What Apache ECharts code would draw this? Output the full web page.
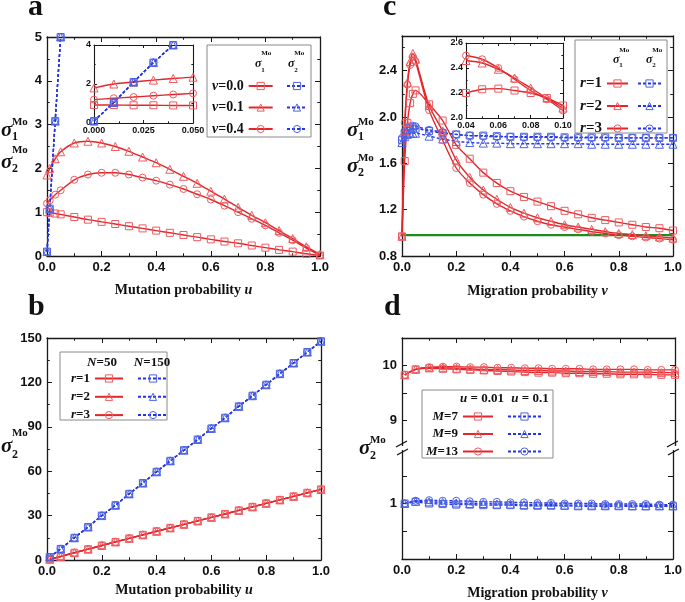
<!DOCTYPE html>
<html><head><meta charset="utf-8">
<script src="https://cdn.jsdelivr.net/npm/echarts@6/dist/echarts.min.js"></script>
<style>html,body{margin:0;padding:0;background:#fff}#c{width:685px;height:602px}</style>
</head><body><div id="c"></div>
<script>
// ---------- DATA ----------
// panel a (main)
const aX   = [0, 0.01, 0.03, 0.05, 0.1, 0.15, 0.2, 0.25, 0.3, 0.35, 0.4, 0.45, 0.5, 0.55, 0.6, 0.65, 0.7, 0.75, 0.8, 0.85, 0.9, 0.95, 1.0];
const aV00 = [1.0, 0.99, 0.97, 0.95, 0.89, 0.83, 0.78, 0.73, 0.68, 0.63, 0.58, 0.53, 0.48, 0.43, 0.38, 0.33, 0.29, 0.24, 0.19, 0.14, 0.1, 0.05, 0.01];
const aV01 = [1.85, 2.0, 2.22, 2.38, 2.58, 2.62, 2.58, 2.5, 2.39, 2.26, 2.13, 1.98, 1.82, 1.66, 1.48, 1.3, 1.11, 0.93, 0.76, 0.58, 0.4, 0.21, 0.04];
const aV04 = [1.2, 1.27, 1.4, 1.5, 1.74, 1.86, 1.9, 1.9, 1.86, 1.79, 1.72, 1.63, 1.53, 1.41, 1.29, 1.15, 1.0, 0.85, 0.7, 0.53, 0.36, 0.18, 0.02];
const aBlueX = [0, 0.01, 0.03, 0.05];
const aBlueY = [0.1, 1.08, 3.08, 5.0];
// panel a (inset)
const iaX   = [0, 0.01, 0.02, 0.03, 0.04, 0.05];
const iaV00 = [0.92, 0.92, 0.91, 0.91, 0.9, 0.9];
const iaV01 = [1.8, 2.0, 2.1, 2.2, 2.28, 2.35];
const iaV04 = [1.2, 1.27, 1.33, 1.4, 1.46, 1.52];
const iaBlueX = [0, 0.01, 0.02, 0.03, 0.04];
const iaBlueY = [0.1, 1.05, 2.1, 3.1, 4.0];
// panel b
const bX     = [0.01, 0.05, 0.1, 0.15, 0.2, 0.25, 0.3, 0.35, 0.4, 0.45, 0.5, 0.55, 0.6, 0.65, 0.7, 0.75, 0.8, 0.85, 0.9, 0.95, 1.0];
const bN150  = [2, 7.5, 15, 22.3, 30, 37, 44.7, 52, 59.6, 67, 74.2, 81.4, 88.9, 96.1, 103.8, 111, 118.4, 125.9, 133.1, 140.5, 147.8];
const bN50   = [0.5, 2.4, 4.9, 7.3, 9.8, 12.2, 14.6, 17, 19.4, 21.7, 24.1, 26.4, 28.8, 31.1, 33.5, 35.9, 38.3, 40.6, 43, 45.4, 47.7];
// panel c (main)
const cXr  = [0, 0.01, 0.02, 0.03, 0.04, 0.05, 0.1, 0.15, 0.2, 0.25, 0.3, 0.35, 0.4, 0.45, 0.5, 0.55, 0.6, 0.65, 0.7, 0.75, 0.8, 0.85, 0.9, 0.95, 1.0];
const cR1  = [0.97, 1.62, 1.95, 2.12, 2.2, 2.23, 2.11, 1.97, 1.76, 1.64, 1.52, 1.43, 1.36, 1.31, 1.27, 1.23, 1.19, 1.16, 1.13, 1.11, 1.09, 1.07, 1.05, 1.04, 1.02];
const cR2  = [0.97, 1.88, 2.3, 2.48, 2.55, 2.5, 2.1, 1.88, 1.63, 1.48, 1.37, 1.29, 1.22, 1.17, 1.13, 1.10, 1.07, 1.05, 1.03, 1.01, 0.995, 0.985, 0.975, 0.965, 0.955];
const cR3  = [0.97, 1.95, 2.28, 2.45, 2.52, 2.48, 2.06, 1.8, 1.56, 1.43, 1.33, 1.25, 1.19, 1.14, 1.10, 1.07, 1.05, 1.03, 1.01, 0.995, 0.98, 0.97, 0.96, 0.95, 0.94];
const cXb  = [0, 0.01, 0.02, 0.03, 0.04, 0.05, 0.1, 0.15, 0.2, 0.25, 0.3, 0.35, 0.4, 0.45, 0.5, 0.55, 0.6, 0.65, 0.7, 0.75, 0.8, 0.85, 0.9, 0.95, 1.0];
const cB1  = [1.8, 1.86, 1.88, 1.9, 1.9, 1.9, 1.88, 1.86, 1.85, 1.84, 1.84, 1.835, 1.83, 1.83, 1.83, 1.83, 1.825, 1.825, 1.825, 1.825, 1.82, 1.82, 1.82, 1.82, 1.82];
const cB2  = [1.78, 1.83, 1.85, 1.86, 1.86, 1.86, 1.835, 1.81, 1.79, 1.78, 1.775, 1.775, 1.77, 1.77, 1.77, 1.77, 1.77, 1.77, 1.765, 1.765, 1.765, 1.765, 1.765, 1.765, 1.765];
const cB3  = [1.82, 1.88, 1.91, 1.92, 1.925, 1.92, 1.89, 1.87, 1.85, 1.84, 1.835, 1.83, 1.83, 1.825, 1.825, 1.825, 1.82, 1.82, 1.82, 1.82, 1.82, 1.82, 1.82, 1.82, 1.82];
const cGreenX = [0, 1.0];
const cGreenY = [0.98, 0.98];
// panel c (inset)
const icX  = [0.04, 0.05, 0.06, 0.07, 0.08, 0.09, 0.1];
const icR1 = [2.2, 2.23, 2.235, 2.22, 2.2, 2.16, 2.1];
const icR2 = [2.46, 2.44, 2.39, 2.32, 2.24, 2.16, 2.08];
const icR3 = [2.5, 2.47, 2.4, 2.31, 2.22, 2.15, 2.06];
// panel d
const dX    = [0.01, 0.05, 0.1, 0.15, 0.2, 0.25, 0.3, 0.35, 0.4, 0.45, 0.5, 0.55, 0.6, 0.65, 0.7, 0.75, 0.8, 0.85, 0.9, 0.95, 1.0];
const dR7   = [9.83, 9.93, 9.95, 9.94, 9.93, 9.92, 9.91, 9.9, 9.89, 9.88, 9.87, 9.87, 9.86, 9.86, 9.85, 9.85, 9.84, 9.84, 9.84, 9.83, 9.83];
const dR9   = [9.83, 9.93, 9.96, 9.96, 9.95, 9.94, 9.93, 9.93, 9.92, 9.91, 9.91, 9.9, 9.9, 9.89, 9.89, 9.89, 9.88, 9.88, 9.88, 9.87, 9.87];
const dR13  = [9.83, 9.93, 9.97, 9.98, 9.98, 9.97, 9.97, 9.96, 9.96, 9.95, 9.95, 9.94, 9.94, 9.94, 9.93, 9.93, 9.93, 9.93, 9.92, 9.92, 9.92];
const dB7   = [1.0, 1.03, 1.0, 0.99, 0.98, 0.98, 0.97, 0.97, 0.97, 0.96, 0.96, 0.96, 0.96, 0.95, 0.95, 0.95, 0.95, 0.95, 0.95, 0.95, 0.95];
const dB9   = [1.0, 1.04, 1.03, 1.02, 1.01, 1.0, 1.0, 0.99, 0.99, 0.98, 0.98, 0.98, 0.97, 0.97, 0.97, 0.97, 0.97, 0.96, 0.96, 0.96, 0.96];
const dB13  = [1.0, 1.05, 1.06, 1.05, 1.05, 1.04, 1.03, 1.03, 1.02, 1.02, 1.01, 1.01, 1.0, 1.0, 1.0, 0.99, 0.99, 0.99, 0.99, 0.98, 0.98];
// tick labels
const xTicks   = ['0.0', '0.2', '0.4', '0.6', '0.8', '1.0'];
const aYTicks  = ['0', '1', '2', '3', '4', '5'];
const bYTicks  = ['0', '30', '60', '90', '120', '150'];
const cYTicks  = ['0.8', '1.2', '1.6', '2.0', '2.4'];
const dYTicksUpper = ['9', '10'];
const dYTicksLower = ['1'];
const iaXTicks = ['0.000', '0.025', '0.050'];
const iaYTicks = ['0', '2', '4'];
const icXTicks = ['0.04', '0.06', '0.08', '0.10'];
const icYTicks = ['2.0', '2.2', '2.4', '2.6'];
// legend labels
const aLegend = ['{i|v}=0.0', '{i|v}=0.1', '{i|v}=0.4'];
const bLegend = ['{i|r}=1', '{i|r}=2', '{i|r}=3'];
const cLegend = ['{i|r}=1', '{i|r}=2', '{i|r}=3'];
const dLegend = ['{i|M}=7', '{i|M}=9', '{i|M}=13'];

// ---------- STYLE ----------
const RED = '#e3262b', RED_MK = '#ee5b60', BLUE = '#2633e0', BLUE_MK = '#4d63e3', GREEN = '#1d8c1d';
const SANS = '"Liberation Sans", Arial, sans-serif';
const SERIF = '"Liberation Serif", "Times New Roman", serif';
const INK = '#111';
const CLEAR = 'rgba(255,255,255,0)';

const grids = [
  {left: 47,  top: 37,  width: 273, height: 219},          // 0 a
  {left: 402, top: 36,  width: 273, height: 220},          // 1 c
  {left: 47,  top: 338, width: 274, height: 222},          // 2 b
  {left: 402, top: 338, width: 273, height: 110},          // 3 d (upper part)
  {left: 94,  top: 45,  width: 99,  height: 78, show: true, backgroundColor: '#fff', borderWidth: 0, z: 10}, // 4 inset a
  {left: 466, top: 43,  width: 97,  height: 75, show: true, backgroundColor: '#fff', borderWidth: 0, z: 10}, // 5 inset c
  {left: 402, top: 448, width: 273, height: 111}           // 6 d (lower part)
];

function pick(v, labels) {
  const l = labels.find(s => Math.abs(parseFloat(s) - v) < 1e-7);
  return l === undefined ? '' : l;
}

const xAxes = [], yAxes = [];
function axis(gi, pos, r, showLabel, o, hidden) {
  const a = {
    type: 'value', gridIndex: gi, position: pos, min: r.min, max: r.max, interval: r.interval, show: !hidden,
    axisLine: {show: true, onZero: false, lineStyle: {color: '#1a1a1a', width: o.lw}},
    axisTick: {show: true, inside: true, length: o.tick, lineStyle: {color: '#1a1a1a', width: 1}},
    minorTick: {show: !!r.minor, splitNumber: r.minor || 2, length: o.tick * 0.55, lineStyle: {color: '#1a1a1a', width: 1}},
    splitLine: {show: false}, minorSplitLine: {show: false},
    axisLabel: {show: showLabel, fontFamily: SANS, fontWeight: 'bold', fontSize: o.fs, color: INK, margin: o.margin,
      formatter: v => pick(v, r.labels)},
    z: o.z
  };
  if (showLabel && r.name) {
    a.name = r.name; a.nameLocation = 'middle'; a.nameGap = r.nameGap;
    a.nameTextStyle = {fontFamily: SERIF, fontWeight: 'bold', fontSize: 14, color: INK, verticalAlign: 'top',
      rich: {i: {fontFamily: SERIF, fontWeight: 'bold', fontStyle: 'italic', fontSize: 14, color: INK}}};
  }
  return a;
}
function addAxes(gi, xr, yr, o, f) {
  f = f || {};
  xAxes.push(axis(gi, 'bottom', xr, true, o, f.hideBottom), axis(gi, 'top', xr, false, o, f.hideTop));
  yAxes.push(axis(gi, 'left', yr, true, o), axis(gi, 'right', yr, false, o));
}
const MAIN = {lw: 1.3, tick: 5, fs: 13, margin: 5, z: 0};
const INS  = {lw: 1.1, tick: 3, fs: 9, margin: 3, z: 12};
const mutName = 'Mutation probability {i|u}';
const migName = 'Migration probability {i|v}';

addAxes(0, {min: 0, max: 1, interval: 0.2, minor: 2, labels: xTicks, name: mutName, nameGap: 27},
           {min: 0, max: 5, interval: 1, minor: 2, labels: aYTicks}, MAIN);
addAxes(1, {min: 0, max: 1, interval: 0.2, minor: 2, labels: xTicks, name: migName, nameGap: 28},
           {min: 0.8, max: 2.7, interval: 0.4, minor: 2, labels: cYTicks}, MAIN);
addAxes(2, {min: 0, max: 1, interval: 0.2, minor: 2, labels: xTicks, name: mutName, nameGap: 23},
           {min: 0, max: 150, interval: 30, minor: 2, labels: bYTicks}, MAIN);
addAxes(3, {min: 0, max: 1, interval: 0.2, minor: 2, labels: []},
           {min: 8.5, max: 10.5, interval: 0.5, labels: dYTicksUpper}, MAIN, {hideBottom: true});
addAxes(4, {min: 0, max: 0.05, interval: 0.025, minor: 2, labels: iaXTicks},
           {min: 0, max: 4, interval: 2, minor: 2, labels: iaYTicks}, INS);
addAxes(5, {min: 0.04, max: 0.1, interval: 0.02, minor: 2, labels: icXTicks},
           {min: 2.0, max: 2.6, interval: 0.2, minor: 2, labels: icYTicks}, INS);
addAxes(6, {min: 0, max: 1, interval: 0.2, minor: 2, labels: xTicks, name: migName, nameGap: 27},
           {min: 0, max: 2, interval: 0.5, labels: dYTicksLower}, MAIN, {hideTop: true});

function ser(name, gi, xs, ys, sym, red, extra) {
  const mk = red ? RED_MK : BLUE_MK;
  return Object.assign({
    type: 'line', name, xAxisIndex: 2 * gi, yAxisIndex: 2 * gi,
    data: xs.map((x, i) => [x, ys[i]]),
    symbol: sym, symbolSize: sym === 'triangle' ? 8 : 7, showSymbol: true, smooth: 0.25,
    lineStyle: red ? {color: RED, width: 1.4, type: 'solid'} : {color: BLUE, width: 1.4, type: [3, 2]},
    itemStyle: {color: CLEAR, borderColor: mk, borderWidth: 1},
    emphasis: {disabled: true}, z: gi === 4 || gi === 5 ? 13 : 2
  }, extra || {});
}
const series = [
  // a
  ser('a_v00', 0, aX, aV00, 'rect', true),
  ser('a_v01', 0, aX, aV01, 'triangle', true),
  ser('a_v04', 0, aX, aV04, 'circle', true),
  ser('a_b00', 0, aBlueX, aBlueY, 'rect', false, {smooth: false}),
  ser('a_b01', 0, aBlueX, aBlueY, 'triangle', false, {smooth: false}),
  ser('a_b04', 0, aBlueX, aBlueY, 'circle', false, {smooth: false}),
  ser('ia_v00', 4, iaX, iaV00, 'rect', true),
  ser('ia_v01', 4, iaX, iaV01, 'triangle', true),
  ser('ia_v04', 4, iaX, iaV04, 'circle', true),
  ser('ia_b00', 4, iaBlueX, iaBlueY, 'rect', false, {smooth: false}),
  ser('ia_b01', 4, iaBlueX, iaBlueY, 'triangle', false, {smooth: false}),
  ser('ia_b04', 4, iaBlueX, iaBlueY, 'circle', false, {smooth: false}),
  // b
  ser('b_r1', 2, bX, bN50, 'rect', true, {smooth: false}),
  ser('b_r2', 2, bX, bN50, 'triangle', true, {smooth: false}),
  ser('b_r3', 2, bX, bN50, 'circle', true, {smooth: false}),
  ser('b_b1', 2, bX, bN150, 'rect', false, {smooth: false}),
  ser('b_b2', 2, bX, bN150, 'triangle', false, {smooth: false}),
  ser('b_b3', 2, bX, bN150, 'circle', false, {smooth: false}),
  // c
  ser('c_green', 1, cGreenX, cGreenY, 'none', true, {lineStyle: {color: GREEN, width: 2.2}, smooth: false, z: 1}),
  ser('c_b1', 1, cXb, cB1, 'rect', false),
  ser('c_b2', 1, cXb, cB2, 'triangle', false),
  ser('c_b3', 1, cXb, cB3, 'circle', false),
  ser('c_r1', 1, cXr, cR1, 'rect', true),
  ser('c_r2', 1, cXr, cR2, 'triangle', true),
  ser('c_r3', 1, cXr, cR3, 'circle', true),
  ser('ic_r1', 5, icX, icR1, 'rect', true),
  ser('ic_r2', 5, icX, icR2, 'triangle', true),
  ser('ic_r3', 5, icX, icR3, 'circle', true),
  // d
  ser('d_r7', 3, dX, dR7, 'rect', true),
  ser('d_r9', 3, dX, dR9, 'triangle', true),
  ser('d_r13', 3, dX, dR13, 'circle', true),
  ser('d_b7', 6, dX, dB7, 'rect', false, {smooth: false}),
  ser('d_b9', 6, dX, dB9, 'triangle', false, {smooth: false}),
  ser('d_b13', 6, dX, dB13, 'circle', false, {smooth: false})
];

// legends
function legPair(redNames, blueNames, labels, cfg) {
  const ts = {fontFamily: SERIF, fontWeight: 'bold', fontSize: cfg.fs, color: INK, lineHeight: cfg.lh, width: cfg.tw,
    rich: {i: {fontFamily: SERIF, fontWeight: 'bold', fontStyle: 'italic', fontSize: cfg.fs, color: INK, lineHeight: cfg.lh}}};
  const common = {orient: 'vertical', itemHeight: 9, itemGap: cfg.gap, selectedMode: false, padding: 0, z: 20, top: cfg.top};
  return [
    Object.assign({data: redNames, left: cfg.left, align: 'right', itemWidth: cfg.rw, textStyle: ts,
      itemStyle: {color: CLEAR, borderColor: RED_MK, borderWidth: 1},
      formatter: n => labels[redNames.indexOf(n)]}, common),
    Object.assign({data: blueNames, left: cfg.bleft, align: 'left', itemWidth: cfg.bw, textStyle: Object.assign({}, ts, {width: 1}),
      itemStyle: {color: CLEAR, borderColor: BLUE_MK, borderWidth: 1},
      formatter: () => ' '}, common)
  ];
}
const legends = [].concat(
  legPair(['a_v00', 'a_v01', 'a_v04'], ['a_b00', 'a_b01', 'a_b04'], aLegend, {fs: 14, lh: 14, tw: 31, left: 212, bleft: 286, top: 79, gap: 7.5, rw: 24, bw: 20}),
  legPair(['c_r1', 'c_r2', 'c_r3'], ['c_b1', 'c_b2', 'c_b3'], cLegend, {fs: 15, lh: 14, tw: 22, left: 580, bleft: 637, top: 76, gap: 7.5, rw: 21, bw: 23}),
  legPair(['b_r1', 'b_r2', 'b_r3'], ['b_b1', 'b_b2', 'b_b3'], bLegend, {fs: 13, lh: 12, tw: 27, left: 63, bleft: 137, top: 372, gap: 5.3, rw: 28, bw: 30}),
  legPair(['d_r7', 'd_r9', 'd_r13'], ['d_b7', 'd_b9', 'd_b13'], dLegend, {fs: 13, lh: 12, tw: 35, left: 423, bleft: 507, top: 410, gap: 4.5, rw: 30, bw: 33})
);

// graphic decorations (labels, legend boxes)
const g = [];
function txt(x, y, text, fs, opt) {
  g.push({type: 'text', x, y, z: 30, style: Object.assign({text, fontFamily: SERIF, fontWeight: 'bold', fontSize: fs,
    fill: INK, textVerticalAlign: 'middle', textAlign: 'left'}, opt || {})});
}
function sigma(x, y, sub, fs, dMo, dSub, fMo, fSub) {
  txt(x, y, 'σ', fs, {fontStyle: 'italic'});
  const xs = x + fs * 0.52;
  txt(xs, y + dMo, 'Mo', fMo);
  txt(xs, y + dSub, sub, fSub);
}
function box(x, y, w, h) {
  g.push({type: 'rect', shape: {x, y, width: w, height: h}, z: 15, style: {fill: '#fff', stroke: '#8a8a8a', lineWidth: 1}});
}
// panel letters
txt(28, 7, 'a', 30); txt(383, 7, 'c', 30);
txt(28, 307, 'b', 30); txt(384, 307, 'd', 30);
// y titles
sigma(1, 131, '1', 21, -9, 6, 11, 12);
sigma(1, 163, '2', 21, -13, 6, 11, 12);
sigma(347, 131, '1', 21, -9, 6, 11, 12);
sigma(347, 167, '2', 21, -9, 6, 11, 12);
sigma(1, 447, '2', 21, -14, 8, 11, 12);
sigma(359, 449, '2', 21, -9, 7, 11, 12);
// legend boxes
box(207, 45, 104, 92);
box(575, 40, 92, 93);
box(60, 352, 107, 68);
box(422, 390, 131, 68);
// legend headers
sigma(255, 64, '1', 12, -11, 6, 7, 7);
sigma(288, 64, '2', 12, -11, 6, 7, 7);
sigma(613, 60, '1', 12, -10, 5, 7, 7);
sigma(646, 60, '2', 12, -10, 5, 7, 7);
const hdrRich = {i: {fontFamily: SERIF, fontWeight: 'bold', fontStyle: 'italic', fontSize: 13, fill: INK}};
txt(102, 363, '{i|N}=50', 13, {textAlign: 'center', rich: hdrRich});
txt(152, 363, '{i|N}=150', 13, {textAlign: 'center', rich: hdrRich});
txt(482, 399, '{i|u} = 0.01', 13, {textAlign: 'center', rich: hdrRich});
txt(530, 399, '{i|u} = 0.1', 13, {textAlign: 'center', rich: hdrRich});

const chart = echarts.init(document.getElementById('c'), null, {renderer: 'canvas'});
chart.setOption({
  animation: false, backgroundColor: '#fff',
  grid: grids, xAxis: xAxes, yAxis: yAxes, series, legend: legends,
  graphic: {elements: g}
});

// axis break marks on panel d (where the two parts of the axis meet)
try {
  const yb = chart.convertToPixel({yAxisIndex: 12}, 2);
  const xl = chart.convertToPixel({xAxisIndex: 12}, 0);
  const xr = chart.convertToPixel({xAxisIndex: 12}, 1);
  const marks = [];
  [xl, xr].forEach((xx, k) => {
    marks.push({type: 'rect', id: 'brk_bg' + k, shape: {x: xx - 7, y: yb - 2, width: 14, height: 4}, z: 40, style: {fill: '#fff'}});
    marks.push({type: 'line', id: 'brk_a' + k, shape: {x1: xx - 6, y1: yb - 1, x2: xx + 5, y2: yb - 7}, z: 41, style: {stroke: '#111', lineWidth: 1.2}});
    marks.push({type: 'line', id: 'brk_b' + k, shape: {x1: xx - 5, y1: yb + 7, x2: xx + 6, y2: yb + 1}, z: 41, style: {stroke: '#111', lineWidth: 1.2}});
  });
  chart.setOption({graphic: {elements: marks}});
} catch (e) { console.error(e); }
</script>
</body></html>
